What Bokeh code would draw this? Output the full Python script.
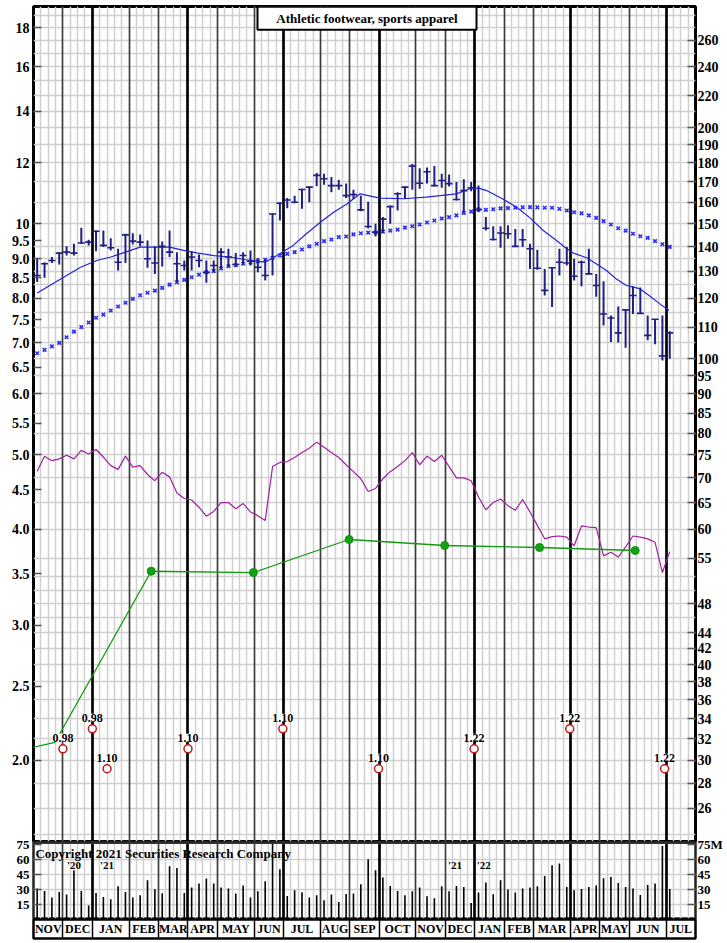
import numpy as np
from bokeh.plotting import figure
from bokeh.models import (Range1d, LogScale, LogAxis, LinearAxis, FixedTicker, Grid, Span,
                          CustomJSTickFormatter)
from bokeh.layouts import column
from bokeh.embed import file_html
from bokeh.resources import INLINE
from bokeh.core.properties import value

FONT = "Liberation Serif"

# ---------------- calendar (weekly x axis) ----------------
month_labels = ["NOV", "DEC", "JAN", "FEB", "MAR", "APR", "MAY", "JUN", "JUL", "AUG", "SEP",
                "OCT", "NOV", "DEC", "JAN", "FEB", "MAR", "APR", "MAY", "JUN", "JUL"]
month_weeks = [4, 4, 5, 4, 4, 4, 5, 4, 5, 4, 4, 5, 4, 4, 4, 4, 5, 4, 4, 5, 4]
quarter_months = ["JAN", "APR", "JUL", "OCT"]

# ---------------- weekly price bars (right-hand price scale) ----------------
high = [135.0, 133.6, 135.7, 137.7, 140.1, 141.2, 148.1, 142.9, 146.9, 146.9,
        143.6, 139.1, 145.5, 145.7, 145.2, 142.6, 140.1, 142.2, 146.9, 137.7,
        134.3, 138.0, 136.7, 134.3, 134.3, 139.3, 139.1, 137.3, 137.7, 138.4,
        135.3, 135.0, 154.8, 159.9, 162.0, 163.1, 166.5, 167.6, 174.5, 174.2,
        172.5, 171.1, 169.1, 166.0, 163.1, 160.2, 149.9, 153.0, 158.3, 164.8,
        167.6, 179.3, 177.0, 177.5, 178.2, 174.2, 173.8, 169.9, 171.3, 169.9,
        168.1, 153.0, 148.8, 148.8, 149.3, 147.6, 147.6, 141.2, 138.7, 130.9,
        131.6, 139.1, 139.8, 135.0, 134.3, 139.1, 129.0, 126.2, 113.9, 117.0,
        115.9, 124.3, 123.8, 113.9, 112.7, 113.9, 108.6]
low = [125.9, 127.5, 133.3, 132.7, 136.3, 136.3, 141.2, 140.5, 138.1, 139.8,
       138.4, 130.3, 133.3, 140.9, 140.1, 131.4, 129.0, 131.9, 135.7, 125.6,
       130.3, 130.3, 131.6, 125.6, 129.6, 130.9, 131.6, 131.9, 132.7, 132.3,
       129.6, 126.5, 128.4, 151.4, 157.1, 159.4, 156.8, 159.9, 167.8, 168.5,
       164.8, 166.0, 162.0, 161.5, 155.7, 147.8, 144.3, 145.8, 149.9, 156.0,
       161.5, 166.0, 166.5, 169.1, 167.6, 167.0, 167.6, 160.7, 155.2, 165.3,
       155.2, 146.9, 142.6, 139.5, 143.3, 139.8, 139.8, 130.9, 130.6, 120.9,
       116.8, 128.4, 132.3, 126.5, 124.3, 128.8, 120.5, 110.5, 105.2, 105.0,
       103.4, 114.4, 114.4, 105.7, 104.5, 99.5, 100.0]
close = [128.4, 133.0, 134.3, 137.3, 137.7, 137.3, 141.5, 141.9, 146.6, 140.5,
         139.5, 133.6, 145.0, 142.3, 141.9, 135.0, 133.3, 140.1, 137.7, 133.0,
         132.3, 135.7, 134.3, 129.6, 132.3, 137.7, 135.7, 132.7, 136.3, 134.0,
         131.6, 128.4, 154.4, 159.4, 161.0, 159.9, 166.1, 167.3, 173.3, 171.6,
         168.1, 168.1, 163.1, 163.6, 156.3, 148.7, 146.2, 152.0, 157.8, 164.0,
         167.3, 178.2, 169.3, 175.2, 168.1, 170.7, 169.1, 161.2, 165.6, 167.0,
         156.5, 147.9, 143.0, 145.8, 145.5, 140.1, 142.9, 139.1, 131.2, 122.8,
         131.4, 133.6, 133.3, 128.1, 133.6, 129.0, 124.6, 114.4, 113.0, 108.1,
         115.8, 120.9, 114.6, 107.3, 112.6, 100.9, 108.1]

# weekly volume, millions of shares
volume = [31, 28.6, 22, 27.6, 25, 49.3, 28.6, 14, 26.6, 22.6,
          20.3, 33.3, 27.6, 22, 24.3, 39.3, 30.3, 26.3, 53.3, 51.6,
          26.6, 32, 36, 41, 36, 32, 31, 26, 34, 22,
          28.3, 38.3, 76, 50.3, 23.6, 29.3, 27.3, 22, 24.3, 19.3,
          25, 17.6, 25.6, 26, 35.3, 60.3, 49.3, 42, 33.6, 28.6,
          24.3, 28.3, 32, 23.3, 21.3, 33.3, 28.3, 33.6, 32.6, 16.6,
          27, 37, 25.3, 39.3, 30, 27, 31, 32, 33.3, 43.6,
          54.3, 56, 32.6, 29.3, 30.6, 32.6, 34, 41.3, 42.6, 36.6,
          32.6, 31, 24.6, 34.6, 36, 73.6, 30.6]

# 40-week moving average (x markers)
ma40 = [101.7, 102.7, 103.8, 104.9, 106.7, 108.5, 110.0, 111.5, 113.1, 114.2,
        115.6, 117.0, 118.3, 119.7, 121.0, 121.9, 122.7, 123.7, 124.9, 125.8,
        126.7, 127.7, 128.7, 129.7, 130.1, 131.1, 132.0, 132.4, 133.0, 133.5,
        134.0, 134.6, 135.4, 136.3, 137.0, 137.7, 138.8, 140.1, 141.2, 142.3,
        143.0, 144.0, 144.3, 145.2, 145.7, 146.0, 146.0, 146.4, 146.9, 147.3,
        148.2, 148.8, 149.6, 150.5, 151.4, 152.3, 152.9, 153.7, 154.9, 155.5,
        156.5, 156.3, 156.6, 157.0, 157.1, 157.3, 157.5, 157.6, 157.5, 157.3,
        157.3, 156.8, 156.0, 155.2, 154.7, 153.7, 152.6, 151.1, 149.6, 147.9,
        146.9, 145.5, 144.4, 143.7, 142.3, 141.0, 139.9]

# relative strength line (plotted against right scale)
rs_line = [71.4, 74.7, 73.7, 74.1, 74.9, 74.1, 76.0, 75.2, 76.2, 74.5,
           72.6, 71.8, 74.7, 72.3, 72.6, 70.7, 69.4, 71.2, 70.2, 66.9,
           65.8, 65.5, 64.1, 62.4, 63.3, 65.0, 65.0, 63.8, 64.8, 63.2,
           62.5, 61.6, 72.4, 73.3, 73.5, 74.4, 75.5, 76.5, 77.9, 76.7,
           75.5, 74.4, 72.8, 71.3, 69.8, 67.2, 67.8, 69.8, 71.3, 72.4,
           73.7, 75.5, 72.8, 74.7, 73.5, 74.9, 72.4, 70.0, 70.0, 69.4,
           66.1, 63.6, 65.0, 65.7, 64.4, 63.5, 65.6, 63.2, 60.7, 58.3,
           58.7, 58.8, 58.6, 57.1, 60.6, 60.4, 60.3, 55.4, 56.0, 55.2,
           56.9, 58.8, 58.6, 58.3, 57.7, 52.7, 56.1]

# 10-week moving average (solid line), read at bar index positions
ma10_week = [0, 3.6, 5.9, 8.1, 10.0, 11.3, 14.0, 18.0, 19.9, 21.7, 24.0, 26.2, 28.1,
             31.0, 32.6, 34.8, 36.6, 38.5, 40.3, 42.1, 43.9, 46.6, 49.8, 52.9, 57.0,
             58.8, 60.0, 61.1, 63.3, 65.2, 67.0, 68.8, 70.6, 72.0, 72.9, 74.7, 76.0,
             77.4, 78.7, 80.1, 81.9, 83.2, 84.6, 85.9]
ma10_value = [121.8, 127.7, 131.6, 134.3, 135.7, 137.0, 139.8, 139.8, 138.4, 137.4,
              136.3, 135.7, 134.7, 133.6, 136.3, 140.5, 145.5, 150.6, 155.2, 159.1,
              164.0, 161.9, 161.6, 162.4, 164.0, 166.5, 166.8, 165.6, 161.5, 157.5,
              152.6, 146.9, 142.6, 139.1, 137.3, 135.4, 133.0, 130.3, 127.1, 124.6,
              123.4, 120.9, 118.0, 115.6]

# earnings line (left scale), x in weeks from chart start
eps_x = [-10.1, 2.9, 16.0, 29.9, 42.9, 55.9, 68.8, 81.8]
eps_value = [1.98, 2.111, 3.527, 3.513, 3.879, 3.810, 3.787, 3.753]
eps_dot_from = 2

# dividends
div_x = [4.0, 8.0, 10.0, 21.0, 33.9, 46.9, 59.9, 72.9, 85.8]
div_label = ["0.98", "0.98", "1.10", "1.10", "1.10", "1.10", "1.22", "1.22", "1.22"]
div_levels = [2.071, 2.199, 1.951]   # staggered marker heights (left scale)

# year markers in the volume panel
year_x = [5.5, 10.0, 57.3, 61.2]
year_label = ["'20", "'21", "'21", "'22"]

# axes
left_ticks = [2.0, 2.5, 3.0, 3.5, 4.0, 4.5, 5.0, 5.5, 6.0, 6.5, 7.0, 7.5, 8.0, 8.5,
              9.0, 9.5, 10, 12, 14, 16, 18]
right_ticks = [26, 28, 30, 32, 34, 36, 38, 40, 42, 44, 48, 55, 60, 65, 70, 75, 80, 85,
               90, 95, 100, 110, 120, 130, 140, 150, 160, 170, 180, 190, 200, 220, 240, 260]
price_grid = (list(range(24, 53, 2)) + list(range(55, 141, 5)) + list(range(150, 281, 10)))
vol_ticks = [15, 30, 45, 60, 75]
vol_grid = [15, 30, 45, 60]
PRICE_PER_LEFT = 15.0
LEFT_MIN, LEFT_MAX = 1.564, 19.17
VOL_MAX = 77

# ---------------- derived positions ----------------
n = len(close)
wx = [i + 0.5 for i in range(n)]
bounds = np.concatenate([[0], np.cumsum(month_weeks)]).astype(float)
month_mid = list((bounds[:-1] + bounds[1:]) / 2)
month_lines = list(bounds[1:-1])
quarter_lines = [float(bounds[i]) for i, m in enumerate(month_labels) if m in quarter_months and i > 0]
week_lines = list(range(0, int(bounds[-1]) + 1))
ma10_x = [w + 0.5 for w in ma10_week]
div_y = [div_levels[i % 3] for i in range(len(div_x))]

BAR = "#1f1f86"
W = 725
OVERLAP = 8
xr = Range1d(0, float(bounds[-1]))
common = dict(width=W, x_range=xr, output_backend="svg", toolbar_location=None,
              x_axis_location=None, y_axis_location=None,
              min_border_left=33, min_border_right=W - 33 - 663)


def add_grids(fig, hticks=None, range_name="default"):
    for g in fig.grid:
        g.visible = False
    fig.add_layout(Grid(dimension=0, ticker=FixedTicker(ticks=week_lines),
                        grid_line_color="#d0d0d0", grid_line_width=1.5), "center")
    if hticks is not None:
        fig.add_layout(Grid(dimension=1, ticker=FixedTicker(ticks=hticks), y_range_name=range_name,
                            grid_line_color="#d0d0d0", grid_line_width=1.5), "center")
    fig.add_layout(Grid(dimension=0, ticker=FixedTicker(ticks=month_lines),
                        grid_line_color="#3c3c3c", grid_line_width=1.6), "center")
    fig.add_layout(Grid(dimension=0, ticker=FixedTicker(ticks=quarter_lines),
                        grid_line_color="black", grid_line_width=2.6), "center")


def style_axis(ax, size="14px", standoff=3):
    ax.axis_line_color = None
    ax.major_tick_in = 8
    ax.major_tick_out = 0
    ax.major_tick_line_color = "#555555"
    ax.major_tick_line_width = 1.5
    ax.minor_tick_line_color = None
    ax.major_label_text_font = FONT
    ax.major_label_text_font_style = "bold"
    ax.major_label_text_font_size = size
    ax.major_label_text_color = "black"
    ax.major_label_standoff = standoff


# ---------------- price panel ----------------
p = figure(height=842, y_range=Range1d(LEFT_MIN, LEFT_MAX), y_axis_type="log",
           min_border_top=6, min_border_bottom=0, **common)
p.extra_y_ranges = {"price": Range1d(LEFT_MIN * PRICE_PER_LEFT, LEFT_MAX * PRICE_PER_LEFT)}
p.extra_y_scales = {"price": LogScale()}
p.outline_line_color = "black"
p.outline_line_width = 3
add_grids(p, price_grid, "price")
p.add_layout(Span(location=LEFT_MIN, dimension="width", line_color="#333333", line_width=3))

la = LogAxis(ticker=FixedTicker(ticks=left_ticks),
             formatter=CustomJSTickFormatter(code="return tick >= 10 ? tick.toFixed(0) : tick.toFixed(1);"))
style_axis(la, standoff=4)
p.add_layout(la, "left")
ra = LogAxis(y_range_name="price", ticker=FixedTicker(ticks=right_ticks),
             formatter=CustomJSTickFormatter(code="return tick.toFixed(0);"))
style_axis(ra, standoff=2)
p.add_layout(ra, "right")

# moving averages and RS line
p.line(ma10_x, ma10_value, y_range_name="price", line_color="#2222dd", line_width=1.2)
p.scatter(wx, ma40, y_range_name="price", marker="x", size=5, line_color="#2b2bff", line_width=1.6)
p.line(wx, rs_line, y_range_name="price", line_color="#a020a0", line_width=1.2)

# price bars
p.segment(x0=wx, y0=low, x1=wx, y1=high, y_range_name="price", line_color=BAR, line_width=2)
p.scatter(wx, close, y_range_name="price", marker="dash", size=7, line_color=BAR, line_width=1.6)

# earnings
p.line(eps_x, eps_value, line_color="#129a12", line_width=1.3)
p.scatter(eps_x[eps_dot_from:], eps_value[eps_dot_from:], marker="circle", size=8,
          fill_color="#14a014", line_color="#0f8f0f")

# dividends
p.text(div_x, div_y, text=div_label, y_offset=-11, text_align="center", text_baseline="middle",
       text_font=value(FONT), text_font_style="bold", text_font_size="12px", text_color="black",
       background_fill_color="white")
p.scatter(div_x, div_y, marker="circle", size=8, fill_color="white", line_color="#c01818", line_width=1.5)

# title box
title_x, title_y = 45.34, 18.5
p.rect(x=[title_x], y=[title_y], width=[219], height=[23], width_units="screen", height_units="screen",
       fill_color="white", line_color="black", line_width=2)
p.text(x=[title_x], y=[title_y], text=["Athletic footwear, sports apparel"], text_align="center",
       text_baseline="middle", text_font=value(FONT), text_font_style="bold", text_font_size="13px",
       text_color="black")

# ---------------- volume panel ----------------
v = figure(height=77 + OVERLAP, y_range=Range1d(0, VOL_MAX), min_border_top=OVERLAP,
           min_border_bottom=0, styles={"margin-top": f"-{OVERLAP}px"}, **common)
v.border_fill_color = None
v.border_fill_alpha = 0
v.outline_line_color = "#222222"
v.outline_line_width = 2.5
add_grids(v, vol_grid)
vla = LinearAxis(ticker=FixedTicker(ticks=vol_ticks),
                 formatter=CustomJSTickFormatter(code="return tick.toFixed(0);"))
style_axis(vla, size="13px", standoff=4)
v.add_layout(vla, "left")
vra = LinearAxis(ticker=FixedTicker(ticks=vol_ticks),
                 formatter=CustomJSTickFormatter(code="return tick == 75 ? '75M' : tick.toFixed(0);"))
style_axis(vra, size="13px", standoff=2)
v.add_layout(vra, "right")
v.segment(x0=wx, y0=0, x1=wx, y1=volume, line_color="black", line_width=1.6)
v.add_layout(Span(location=VOL_MAX, dimension="width", line_color="#333333", line_width=3))
v.add_layout(Span(location=0, dimension="width", line_color="black", line_width=2.5))
v.text(x=[0.27], y=[66], text=["Copyright 2021 Securities Research Company"], text_align="left",
       text_baseline="middle", text_font=value(FONT), text_font_style="bold", text_font_size="13px",
       text_color="black")
v.text(x=year_x, y=[55] * len(year_x), text=year_label, text_align="center", text_baseline="middle",
       text_font=value(FONT), text_font_style="bold", text_font_size="11px", text_color="black")

# ---------------- month band ----------------
b = figure(height=22, y_range=Range1d(0, 1), min_border_top=0, min_border_bottom=3, **common)
b.outline_line_color = "black"
b.outline_line_width = 2.5
for g in b.grid:
    g.visible = False
b.add_layout(Grid(dimension=0, ticker=FixedTicker(ticks=month_lines),
                  grid_line_color="black", grid_line_width=1.5), "center")
b.text(x=month_mid, y=[0.5] * len(month_mid), text=month_labels, text_align="center",
       text_baseline="middle", text_font=value(FONT), text_font_style="bold", text_font_size="12px",
       text_color="black")

layout = column(p, v, b, spacing=0)
open("out.html", "w").write(file_html(layout, INLINE))
